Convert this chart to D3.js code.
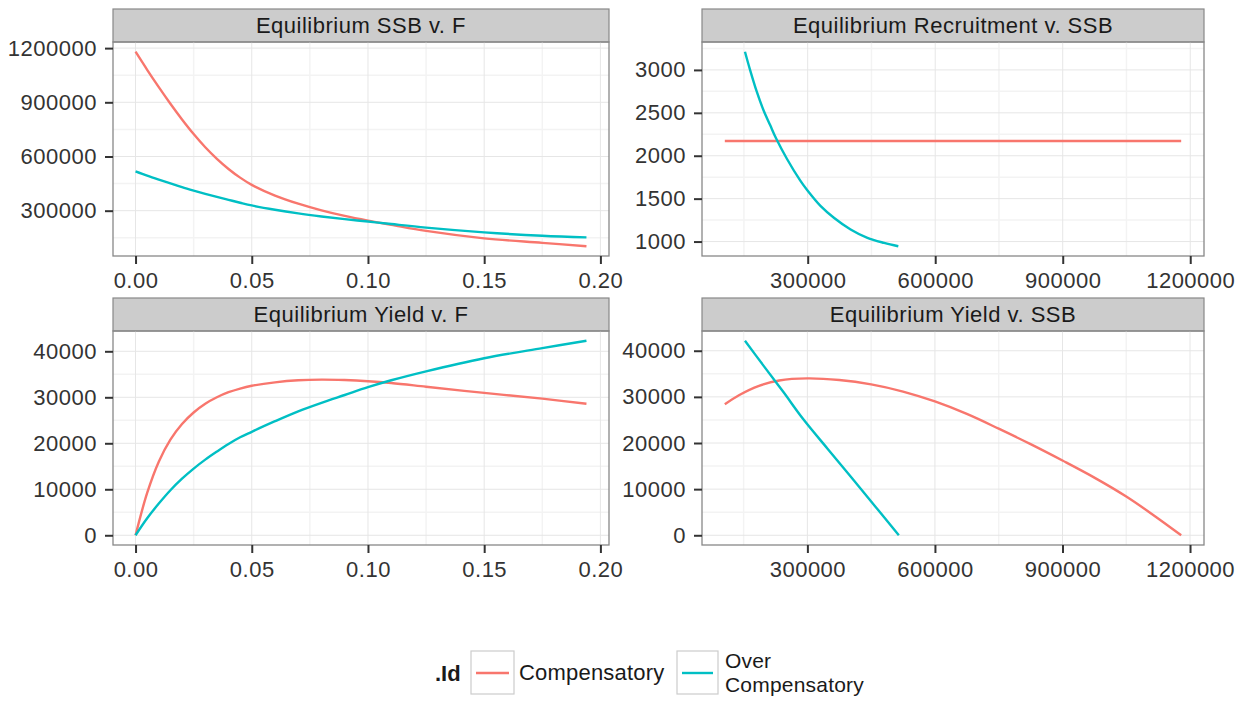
<!DOCTYPE html>
<html>
<head>
<meta charset="utf-8">
<script src="https://cdn.jsdelivr.net/npm/d3@7"></script>
<style>
  body { margin: 0; background: #fff; }
  svg text { font-family: "Liberation Sans", Arial, Helvetica, sans-serif; }
</style>
</head>
<body>
<svg id="chart" width="1244" height="701"></svg>
<script>
// series
const seriesNames = ["Compensatory", "Over\nCompensatory"];
const seriesColors = ["#F8766D", "#00BFC4"];

// equilibrium values against fishing mortality
const fishingF = [0, 0.005, 0.01, 0.015, 0.02, 0.025, 0.03, 0.035, 0.04, 0.045, 0.05,
                  0.06, 0.07, 0.08, 0.09, 0.10, 0.11, 0.125, 0.15, 0.175, 0.194];
const ssbComp = [1180000, 1080000, 984000, 892000, 805000, 724000, 651000, 587000, 531000, 483000, 443000,
                 384000, 339000, 302000, 271000, 245000, 222000, 188000, 147000, 122000, 103000];
const ssbOver = [518000, 494000, 472000, 451000, 430000, 411000, 393000, 376000, 360000, 344000, 329000,
                 305000, 285000, 268000, 253000, 240000, 226000, 206000, 180000, 161000, 152000];
const yieldComp = [0, 9200, 16000, 20800, 24200, 26700, 28600, 30000, 31100, 31900, 32500,
                   33250, 33700, 33850, 33750, 33500, 33100, 32300, 30950, 29700, 28600];
const yieldOver = [0, 3700, 6900, 9800, 12300, 14500, 16450, 18200, 19850, 21300, 22500,
                   24800, 26950, 28800, 30500, 32200, 33700, 35650, 38500, 40700, 42300];

// recruitment against SSB
const recSsbComp = [105000, 1178700];
const recComp = [2172, 2172];
const recSsbOver = [152400, 164200, 180000, 195800, 211600, 225800, 251000, 282600,
                    300000, 330000, 361600, 401000, 440500, 480000, 513200];
const recOver = [3212, 3004, 2749, 2533, 2357, 2200, 1965, 1710,
                 1592, 1416, 1278, 1141, 1043, 984, 945];

// yield against SSB
const ysSsbComp = [105800, 139000, 186300, 233700, 300000, 375000, 450000, 525000, 600000,
                   675000, 750000, 825000, 900000, 975000, 1050000, 1115000, 1179200];
const ysYieldComp = [28400, 30360, 32390, 33550, 34000, 33650, 32700, 31150, 29000,
                     26300, 23100, 19750, 16200, 12500, 8400, 4300, 0];
const ysSsbOver = [153200, 195800, 243200, 290500, 347400, 404200, 461100, 515100];
const ysYieldOver = [42170, 36880, 31090, 25140, 18770, 12460, 6090, 0];

// tick labels
const fTicks = [0, 0.05, 0.10, 0.15, 0.20];
const ssbTicks = [300000, 600000, 900000, 1200000];
const recTicks = [1000, 1500, 2000, 2500, 3000];
const yieldTicks = [0, 10000, 20000, 30000, 40000];

const fmtF = d3.format(".2f");
const fmtInt = d3.format("d");

const svg = d3.select("#chart");
const FONT = 22;
const STRIP_H = 33, PLOT_H = 214;

const panels = [
  { title: "Equilibrium SSB v. F", left: 113, right: 609, top: 9,
    series: [[fishingF, ssbComp], [fishingF, ssbOver]],
    xTicks: fTicks, yTicks: ssbTicks, xFmt: fmtF, yFmt: fmtInt },
  { title: "Equilibrium Recruitment v. SSB", left: 702, right: 1204, top: 9,
    series: [[recSsbComp, recComp], [recSsbOver, recOver]],
    xTicks: ssbTicks, yTicks: recTicks, xFmt: fmtInt, yFmt: fmtInt },
  { title: "Equilibrium Yield v. F", left: 113, right: 609, top: 298,
    series: [[fishingF, yieldComp], [fishingF, yieldOver]],
    xTicks: fTicks, yTicks: yieldTicks, xFmt: fmtF, yFmt: fmtInt },
  { title: "Equilibrium Yield v. SSB", left: 702, right: 1204, top: 298,
    series: [[ysSsbComp, ysYieldComp], [ysSsbOver, ysYieldOver]],
    xTicks: ssbTicks, yTicks: yieldTicks, xFmt: fmtInt, yFmt: fmtInt }
];

// ggplot style 5% expansion
function expanded(values) {
  const ext = d3.extent(values);
  const pad = (ext[1] - ext[0]) * 0.05;
  return [ext[0] - pad, ext[1] + pad];
}

function minorBreaks(major, domain) {
  const step = major[1] - major[0];
  const b = [major[0] - step].concat(major, [major[major.length - 1] + step]);
  const out = [];
  for (let i = 0; i < b.length - 1; i++) out.push((b[i] + b[i + 1]) / 2);
  return out.filter(v => v > domain[0] && v < domain[1]);
}

panels.forEach(function(p) {
  const plotTop = p.top + STRIP_H;
  const plotBottom = plotTop + PLOT_H;
  const allX = [].concat(...p.series.map(s => s[0]));
  const allY = [].concat(...p.series.map(s => s[1]));

  const x = d3.scaleLinear().domain(expanded(allX)).range([p.left, p.right]);
  const y = d3.scaleLinear().domain(expanded(allY)).range([plotBottom, plotTop]);

  const g = svg.append("g");

  // strip
  g.append("rect")
    .attr("x", p.left).attr("y", p.top)
    .attr("width", p.right - p.left).attr("height", STRIP_H)
    .attr("fill", "#cccccc").attr("stroke", "#888").attr("stroke-width", 1.2);
  g.append("text")
    .attr("x", (p.left + p.right) / 2).attr("y", p.top + STRIP_H / 2)
    .attr("dy", "0.36em").attr("text-anchor", "middle")
    .attr("font-size", FONT).attr("letter-spacing", 0.5).attr("fill", "#1a1a1a")
    .text(p.title);

  // grid
  const grid = g.append("g");
  minorBreaks(p.xTicks, x.domain()).forEach(function(v) {
    grid.append("line").attr("x1", x(v)).attr("x2", x(v)).attr("y1", plotTop).attr("y2", plotBottom)
      .attr("stroke", "#f3f3f3").attr("stroke-width", 1.5);
  });
  minorBreaks(p.yTicks, y.domain()).forEach(function(v) {
    grid.append("line").attr("y1", y(v)).attr("y2", y(v)).attr("x1", p.left).attr("x2", p.right)
      .attr("stroke", "#f3f3f3").attr("stroke-width", 1.5);
  });
  p.xTicks.filter(v => v > x.domain()[0] && v < x.domain()[1]).forEach(function(v) {
    grid.append("line").attr("x1", x(v)).attr("x2", x(v)).attr("y1", plotTop).attr("y2", plotBottom)
      .attr("stroke", "#e6e6e6").attr("stroke-width", 1);
  });
  p.yTicks.forEach(function(v) {
    grid.append("line").attr("y1", y(v)).attr("y2", y(v)).attr("x1", p.left).attr("x2", p.right)
      .attr("stroke", "#e6e6e6").attr("stroke-width", 1);
  });

  // lines
  const line = d3.line()
    .x(d => x(d[0]))
    .y(d => y(d[1]))
    .curve(d3.curveCatmullRom);
  p.series.forEach(function(s, i) {
    g.append("path")
      .datum(d3.zip(s[0], s[1]))
      .attr("d", line)
      .attr("fill", "none")
      .attr("stroke", seriesColors[i])
      .attr("stroke-width", 2.4);
  });

  // border
  g.append("rect")
    .attr("x", p.left).attr("y", plotTop)
    .attr("width", p.right - p.left).attr("height", PLOT_H)
    .attr("fill", "none").attr("stroke", "#888").attr("stroke-width", 1.3);

  // axes
  const xAxis = g.append("g")
    .attr("transform", "translate(0," + plotBottom + ")")
    .call(d3.axisBottom(x).tickValues(p.xTicks).tickFormat(p.xFmt).tickSize(8).tickPadding(8));
  const yAxis = g.append("g")
    .attr("transform", "translate(" + p.left + ",0)")
    .call(d3.axisLeft(y).tickValues(p.yTicks).tickFormat(p.yFmt).tickSize(8).tickPadding(8));
  [xAxis, yAxis].forEach(function(a) {
    a.select(".domain").remove();
    a.selectAll(".tick line").attr("stroke", "#333").attr("stroke-width", 2);
    a.selectAll(".tick text")
      .attr("font-size", FONT)
      .attr("letter-spacing", 0.5)
      .attr("fill", "#333")
      .attr("font-family", "Liberation Sans, Arial, sans-serif");
  });
});

// legend
const legend = svg.append("g");
legend.append("text")
  .attr("x", 435).attr("y", 681)
  .attr("font-size", 22).attr("font-weight", "bold").attr("fill", "#1a1a1a")
  .text(".Id");

const keyBoxes = [{ x: 471, w: 43 }, { x: 677, w: 41 }];
const labelX = [519, 725];
seriesNames.forEach(function(name, i) {
  const k = keyBoxes[i];
  legend.append("rect")
    .attr("x", k.x).attr("y", 651).attr("width", k.w).attr("height", 43)
    .attr("fill", "#fff").attr("stroke", "#cccccc").attr("stroke-width", 1.2);
  legend.append("line")
    .attr("x1", k.x + 5).attr("x2", k.x + k.w - 5)
    .attr("y1", 673).attr("y2", 673)
    .attr("stroke", seriesColors[i]).attr("stroke-width", 2.4);
  const lines = name.split("\n");
  const baseY = lines.length === 1 ? 680 : 668;
  lines.forEach(function(l, j) {
    legend.append("text")
      .attr("x", labelX[i]).attr("y", baseY + j * 24)
      .attr("font-size", lines.length === 1 ? FONT : 21)
      .attr("letter-spacing", 0.2).attr("fill", "#1a1a1a")
      .text(l);
  });
});
</script>
</body>
</html>
